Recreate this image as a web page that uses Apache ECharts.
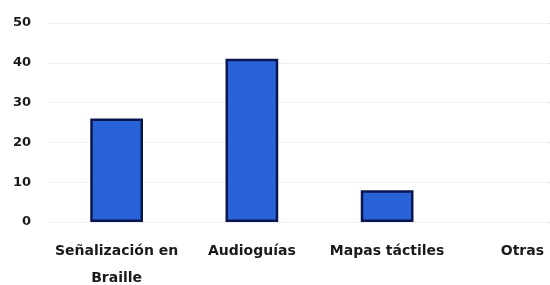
<!DOCTYPE html>
<html>
<head>
    <meta charset="utf-8">
    <script src="https://cdn.jsdelivr.net/npm/echarts@6/dist/echarts.min.js"></script>
</head>
<body style="margin:0">
    <div id="main" style="width:550px;height:285px"></div>

    <script type="text/javascript">
        var categories = ['Señalización en\nBraille', 'Audioguías', 'Mapas táctiles', 'Otras'];
        var values = [26, 41, 8, 0];
        var yTicks = [0, 10, 20, 30, 40, 50];

        var myChart = echarts.init(document.getElementById('main'));
        var option = {
            animation: false,
            grid: { left: 49, right: -40, top: 23, bottom: 63, outerBoundsMode: 'none' },
            xAxis: {
                type: 'category',
                data: categories,
                axisLine: { show: false },
                axisTick: { show: false },
                axisLabel: {
                    interval: 0,
                    margin: 16,
                    color: '#1a1a1a',
                    fontFamily: 'DejaVu Sans',
                    fontWeight: 'bold',
                    fontSize: 14,
                    lineHeight: 27
                }
            },
            yAxis: {
                type: 'value',
                min: yTicks[0],
                max: yTicks[yTicks.length - 1],
                interval: 10,
                axisLine: { show: false },
                axisTick: { show: false },
                axisLabel: {
                    margin: 18,
                    color: '#1a1a1a',
                    fontFamily: 'DejaVu Sans',
                    fontWeight: 'bold',
                    fontSize: 13
                },
                splitLine: { lineStyle: { color: '#e0e0e0', type: 'dotted' } }
            },
            series: [{
                type: 'bar',
                data: values.map(function (v) { return v === 0 ? '-' : v; }),
                barWidth: '39%',
                itemStyle: {
                    color: '#2963d8',
                    borderColor: '#0b1650',
                    borderWidth: 2.5
                }
            }]
        };
        myChart.setOption(option);
    </script>
</body>
</html>
